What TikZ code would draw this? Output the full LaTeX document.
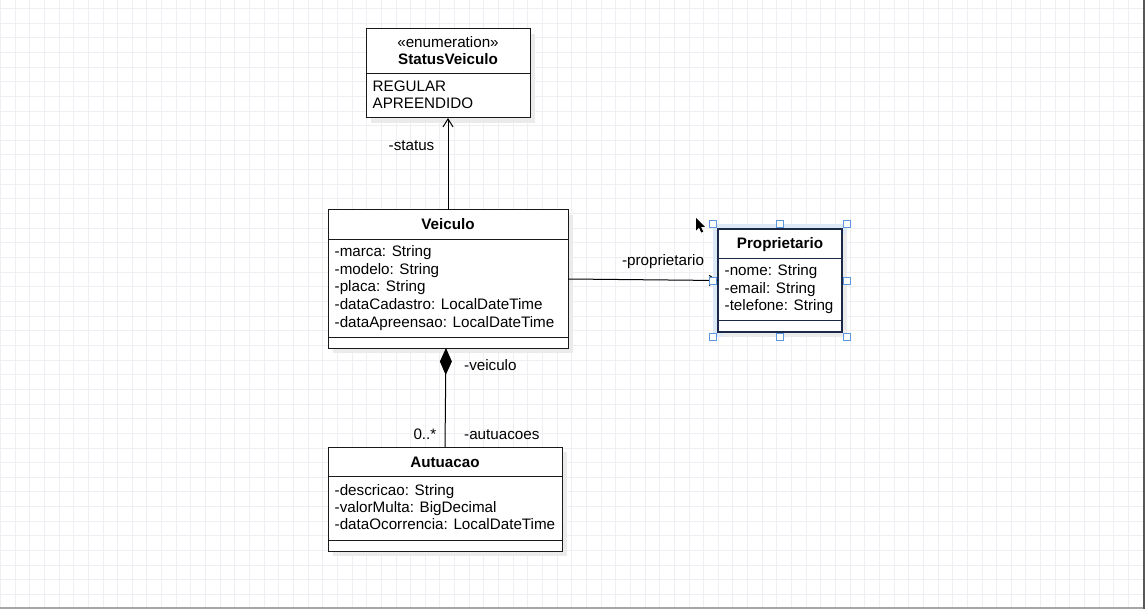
\documentclass[tikz,border=0pt]{standalone}
\usepackage{fontspec}
\setmainfont{Liberation Sans}
\usetikzlibrary{arrows.meta,shadows}

\definecolor{gridline}{RGB}{238,238,243}
\definecolor{selfill}{RGB}{222,233,248}
\definecolor{handle}{RGB}{92,150,220}
\definecolor{navy}{RGB}{28,40,72}
\newcommand{\umlfont}{\fontsize{15.2}{17.5}\selectfont}

\begin{document}
\begin{tikzpicture}[x=1pt,y=-1pt,
  classbox/.style={draw=black!90, line width=1pt, fill=white, anchor=north west,
    inner sep=0pt, outer sep=0pt,
    drop shadow={shadow xshift=5pt, shadow yshift=-5pt, fill=black!8, opacity=1}},
  attr/.style={anchor=base west, inner sep=0pt, font=\umlfont},
  ctitle/.style={anchor=base, inner sep=0pt, font=\umlfont\bfseries},
  lbl/.style={inner sep=0pt, font=\umlfont},
  conn/.style={draw=black, line width=1pt},
  sep/.style={draw=black!90, line width=1pt},
  grip/.style={draw=handle, fill=white, line width=0.9pt, minimum size=7pt,
    inner sep=0pt, outer sep=0pt}]

\useasboundingbox (0,0) rectangle (1145,609);
\fill[white] (0,0) rectangle (1145,609);

% background grid
\foreach \i in {0,...,78}
  \draw[gridline, line width=0.8pt] ({0.35+14.65*\i},0) -- ++(0,609);
\foreach \j in {0,...,41}
  \draw[gridline, line width=0.8pt] (0,{8.4+14.65*\j}) -- ++(1145,0);

% window edges
\fill[black!35] (0,607) rectangle (1145,609);
\fill[black!65] (1143,0) rectangle (1145,609);

% StatusVeiculo enumeration
\node[classbox, minimum width=164pt, minimum height=89pt] (statusveiculo) at (366,29) {};
\draw[sep] (366,74) -- (530,74);
\node[lbl, anchor=base] (stereo) at (448,48) {«enumeration»};
\node[ctitle] (statustitle) at (448,64.5) {StatusVeiculo};
\node[attr] (regular) at (372.5,91.5) {REGULAR};
\node[attr] (apreendido) at (372.5,109) {APREENDIDO};

% Veiculo class
\node[classbox, minimum width=240pt, minimum height=138pt] (veiculo) at (328,210) {};
\draw[sep] (328,239.3) -- (568,239.3);
\draw[sep] (328,337.3) -- (568,337.3);
\node[ctitle] (veiculotitle) at (448,230) {Veiculo};
\node[attr] (marca) at (334.5,256.7) {-marca: String};
\node[attr] (modelo) at (334.5,274.2) {-modelo: String};
\node[attr] (placa) at (334.5,291.8) {-placa: String};
\node[attr] (datacad) at (334.5,309.4) {-dataCadastro: LocalDateTime};
\node[attr] (dataapr) at (334.5,327.2) {-dataApreensao: LocalDateTime};

% selection around Proprietario
\fill[selfill] (713,224) rectangle (847,337);

% Proprietario class
\node[classbox, draw=navy, line width=1.4pt, minimum width=124pt, minimum height=103pt] (proprietario) at (718,229) {};
\draw[sep, draw=navy] (718,258.3) -- (842,258.3);
\draw[sep, draw=navy] (718,321) -- (842,321);
\node[ctitle] (proptitle) at (780,248.3) {Proprietario};
\node[attr] (nome) at (724.5,275.7) {-nome: String};
\node[attr] (email) at (724.5,293.3) {-email: String};
\node[attr] (telefone) at (724.5,310.8) {-telefone: String};

% Autuacao class
\node[classbox, minimum width=234pt, minimum height=104pt] (autuacao) at (328,447) {};
\draw[sep] (328,476.7) -- (562,476.7);
\draw[sep] (328,540) -- (562,540);
\node[ctitle] (autuacaotitle) at (445,467.7) {Autuacao};
\node[attr] (descricao) at (334.5,495) {-descricao: String};
\node[attr] (valormulta) at (334.5,512.3) {-valorMulta: BigDecimal};
\node[attr] (dataoc) at (334.5,529.6) {-dataOcorrencia: LocalDateTime};

% associations
\draw[conn, -{Straight Barb[length=8pt,width=10pt,line width=1pt]}] (veiculo.north) -- (statusveiculo.south);
\node[lbl, anchor=base] (lblstatus) at (411.5,151) {-status};

\draw[conn, -{Straight Barb[length=8pt,width=10pt,line width=1pt]}] (veiculo.east) -- (proprietario.west);
\node[lbl, anchor=base] (lblprop) at (663,266) {-proprietario};

% composition
\draw[conn, -{Diamond[length=27pt,width=12pt]}] (autuacao.north) -- ([xshift=-2pt]veiculo.south);
\node[lbl, anchor=base west] (lblveiculo) at (464,370.7) {-veiculo};
\node[lbl, anchor=base west] (lblmult) at (413.3,439) {0..*};
\node[lbl, anchor=base west] (lblautuacoes) at (464,439) {-autuacoes};

% selection grips
\foreach \gx/\gy [count=\k] in {713/224,780/224,847/224,713/280.5,847/280.5,713/337,780/337,847/337}
  \node[grip] (grip\k) at (\gx,\gy) {};

% mouse pointer
\fill[black] (696,218) -- (696,230.5) -- (699,227.5) -- (701.2,232.5) -- (703.2,231.6) -- (701,226.8) -- (705,226.8) -- cycle;
\end{tikzpicture}
\end{document}
